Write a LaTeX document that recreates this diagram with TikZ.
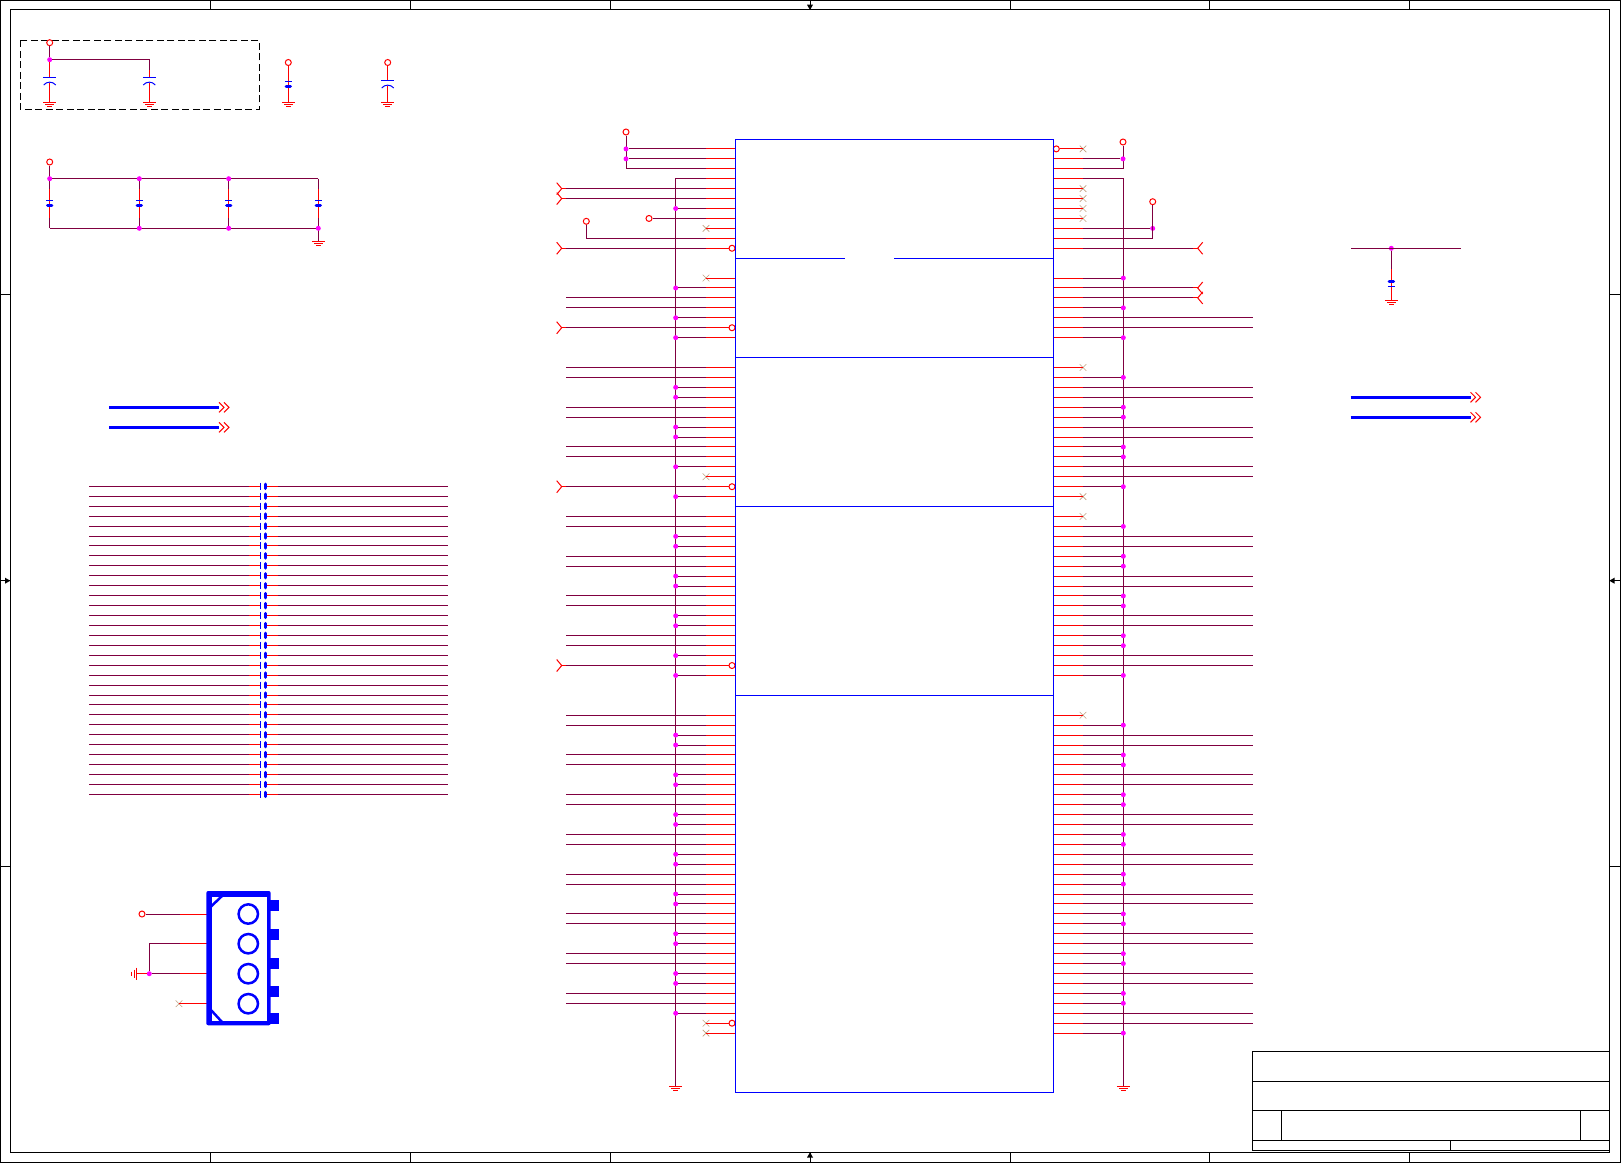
\documentclass[tikz,border=0pt]{standalone}
\usetikzlibrary{calc, positioning, shapes.misc}
\definecolor{netpurple}{HTML}{800040}
\definecolor{ncbrown}{HTML}{C0A080}
\definecolor{jmagenta}{HTML}{FF00FF}
\tikzset{
  netwire/.style={draw=netpurple, line width=1pt},
  pinwire/.style={draw=red, line width=1pt},
  partline/.style={draw=blue, line width=1pt},
  frameline/.style={draw=black, line width=1pt},
  junction/.style={circle, fill=jmagenta, inner sep=0pt, minimum size=5pt},
  term/.style={circle, draw=red, fill=white, line width=1pt, inner sep=0pt, minimum size=6pt},
  ncmark/.style={cross out, draw=ncbrown, line width=0.6pt, inner sep=0pt, minimum size=6pt},
}
% ground symbol, pointing down
\newcommand{\gndmark}[1]{
  \draw[pinwire] ($(#1)+(-6.5,0)$) -- ($(#1)+(6.5,0)$);
  \draw[pinwire] ($(#1)+(-4.3,2)$) -- ($(#1)+(4.3,2)$);
  \draw[pinwire] ($(#1)+(-2.3,4)$) -- ($(#1)+(2.3,4)$);
}
% plain plate and bold plate, #2 is 1 or -1 for which one is on top
\newcommand{\capflat}[2]{
  \draw[partline] ($(#1)+(-3.5,-2.5*#2)$) -- ($(#1)+(3.5,-2.5*#2)$);
  \draw[blue, line width=3pt, line cap=round] ($(#1)+(-2.2,2.5*#2)$) -- ($(#1)+(2.2,2.5*#2)$);
}
% plain plate and curved plate
\newcommand{\capcurved}[1]{
  \draw[partline] ($(#1)+(-6.3,-2.7)$) -- ($(#1)+(6.3,-2.7)$);
  \draw[partline] ($(#1)+(-6,5)$) .. controls ($(#1)+(-3,1.2)$) and ($(#1)+(3,1.2)$) .. ($(#1)+(6,5)$);
}
\newcommand{\busmark}[1]{
  \draw[pinwire] ($(#1)+(0,-5)$) -- ($(#1)+(5,0)$) -- ($(#1)+(0,5)$);
  \draw[pinwire] ($(#1)+(5,-5)$) -- ($(#1)+(10,0)$) -- ($(#1)+(5,5)$);
}

\begin{document}
\begin{tikzpicture}[x=1pt, y=-1pt]
  \useasboundingbox (0,0) rectangle (1621,1164);

  % Sheet frame
  \draw[frameline] (0.5,0.5) rectangle (1620.4,1162.5);
  \draw[frameline] (10.3,9.5) rectangle (1609.3,1152.3);
  \foreach \tx in {210.3,410.2,610.1,1010,1209.7,1409.5} {
    \draw[frameline] (\tx,0.5) -- (\tx,9.5);
    \draw[frameline] (\tx,1152.3) -- (\tx,1162.5);
  }
  \foreach \ty in {294.8,866.5} {
    \draw[frameline] (0.5,\ty) -- (10.3,\ty);
    \draw[frameline] (1609.3,\ty) -- (1620.4,\ty);
  }
  % Centre marks
  \draw[frameline] (810,0.5) -- (810,9.5);
  \draw[frameline] (810,1152.3) -- (810,1162.5);
  \draw[frameline] (0.5,580.7) -- (10.3,580.7);
  \draw[frameline] (1609.3,580.7) -- (1620.4,580.7);
  \fill[black] (807,4.7) -- (813,4.7) -- (810,10) -- cycle;
  \fill[black] (807,1157.5) -- (813,1157.5) -- (810,1152.3) -- cycle;
  \fill[black] (5,577.7) -- (5,583.7) -- (10.3,580.7) -- cycle;
  \fill[black] (1614.5,577.7) -- (1614.5,583.7) -- (1609.3,580.7) -- cycle;

  % Title block
  \draw[frameline] (1252.3,1051.3) rectangle (1609.3,1150.3);
  \draw[frameline] (1252.3,1081.3) -- (1609.3,1081.3);
  \draw[frameline] (1252.3,1110.3) -- (1609.3,1110.3);
  \draw[frameline] (1252.3,1140) -- (1609.3,1140);
  \draw[frameline] (1281.3,1110.3) -- (1281.3,1140);
  \draw[frameline] (1580.3,1110.3) -- (1580.3,1140);
  \draw[frameline] (1450.3,1140) -- (1450.3,1150.3);

  % Decoupling caps, top left
  \draw[black, line width=1pt, dash pattern=on 7pt off 3.5pt] (20.3,40.3) rectangle (259.3,109.3);
  \node[junction] (ja) at (49.7,59.7) {};
  \node[term] (vcca) at (49.7,42.7) {};
  \coordinate (ca) at (49.7,80);
  \coordinate (cb) at (149.3,80);
  \coordinate (ga) at (49.7,102.3);
  \coordinate (gb) at (149.3,102.3);
  \draw[netwire] (vcca) -- (ja);
  \draw[netwire] (ja) -| ($(cb)+(0,-10)$);
  \draw[pinwire] (ja) -- ($(ca)+(0,-2.7)$);
  \draw[pinwire] ($(cb)+(0,-10)$) -- ($(cb)+(0,-2.7)$);
  \foreach \cn/\gn in {ca/ga,cb/gb} {
    \draw[pinwire] ($(\cn)+(0,3)$) -- (\gn);
    \capcurved{\cn}
    \gndmark{\gn}
  }
  \node[term] (vccb) at (288.3,62.5) {};
  \coordinate (cc) at (288.3,83.7);
  \coordinate (gc) at (288.3,102.3);
  \draw[pinwire] (vccb) -- (gc);
  \capflat{cc}{1}
  \gndmark{gc}
  \node[term] (vccc) at (387.7,62.5) {};
  \coordinate (cd) at (387.7,83);
  \coordinate (gd) at (387.7,102.3);
  \draw[pinwire] (vccc) -- ($(cd)+(0,-2.7)$);
  \draw[pinwire] ($(cd)+(0,3)$) -- (gd);
  \capcurved{cd}
  \gndmark{gd}

  % Four caps in parallel
  \node[term] (vccd) at (49.7,162) {};
  \foreach \cx/\cn in {49.7/a,139.3/b,228.7/c,318.3/d} {
    \coordinate (pt\cn) at (\cx,178.7);
    \coordinate (pc\cn) at (\cx,203.2);
    \coordinate (pb\cn) at (\cx,228.3);
    \draw[netwire] (pt\cn) -- ($(pt\cn)+(0,10.5)$);
    \draw[pinwire] ($(pt\cn)+(0,10.5)$) -- (pc\cn);
    \draw[pinwire] (pc\cn) -- ($(pb\cn)+(0,-10)$);
    \draw[netwire] ($(pb\cn)+(0,-10)$) -- (pb\cn);
    \capflat{pc\cn}{1}
  }
  \coordinate (ge) at (318.3,241);
  \draw[netwire] (vccd) -- (pta);
  \draw[netwire] (pta) -- (ptd);
  \draw[netwire] (pba) -- (pbd);
  \draw[netwire] (pbd) -- (ge);
  \gndmark{ge}
  \foreach \cn in {pta,ptb,ptc,pbb,pbc,pbd} {
    \node[junction] at (\cn) {};
  }

  % Buses, left
  \foreach \by/\bn in {407.3/ba,427.3/bb} {
    \coordinate (\bn s) at (109,\by);
    \coordinate (\bn e) at (219,\by);
    \draw[blue, line width=3pt] (\bn s) -- (\bn e);
    \busmark{\bn e}
  }

  % Coupling caps, 32 rows
  \foreach \i in {0,...,31} {
    \coordinate (ka\i) at (89,{486.3+9.94*\i});
    \coordinate (kb\i) at (249,{486.3+9.94*\i});
    \coordinate (kc\i) at (260.3,{486.3+9.94*\i});
    \coordinate (kd\i) at (265.3,{486.3+9.94*\i});
    \coordinate (ke\i) at (278,{486.3+9.94*\i});
    \coordinate (kf\i) at (447.7,{486.3+9.94*\i});
    \draw[netwire] (ka\i) -- (kb\i);
    \draw[pinwire] (kb\i) -- (kc\i);
    \draw[pinwire] (kd\i) -- (ke\i);
    \draw[netwire] (ke\i) -- (kf\i);
    \draw[partline] ($(kc\i)+(0,-3.5)$) -- ($(kc\i)+(0,3.5)$);
    \draw[blue, line width=3pt, line cap=round] ($(kd\i)+(0,-2.2)$) -- ($(kd\i)+(0,2.2)$);
  }

  % Connector
  \foreach \py/\pn in {914/a,943.7/b,973.7/c,1003.7/d} {
    \coordinate (hp\pn) at (209,\py);
    \coordinate (hs\pn) at (180,\py);
    \draw[pinwire] (hs\pn) -- (hp\pn);
  }
  \node[term] (vcch) at (142,914) {};
  \node[junction] (jh) at (149.3,973.7) {};
  \coordinate (gh) at (136.7,973.7);
  \node[ncmark] (nch) at (179,1003.7) {};
  \draw[netwire] (vcch) -- (hsa);
  \draw[netwire] (hsb) -| (jh);
  \draw[netwire] (jh) -- (hsc);
  \draw[pinwire] (jh) -- (gh);
  \draw[pinwire] (nch.center) -- (hsd);
  \draw[pinwire] (136.7,967.5) -- (136.7,980);
  \draw[pinwire] (134.2,969.5) -- (134.2,978);
  \draw[pinwire] (131.8,971.5) -- (131.8,976);
  \fill[blue, rounded corners=2pt] (206.3,891) rectangle (270.7,1025.3);
  \fill[white] (211.7,897.3) rectangle (266.7,1021);
  \draw[blue, line width=2.5pt] (211,906.5) -- (222,896);
  \draw[blue, line width=2.5pt] (211,1010) -- (222,1022);
  \foreach \py in {914,943.7,973.7,1003.7} {
    \draw[blue, line width=2.5pt] (248.3,\py) circle (9.7);
  }
  \foreach \ty in {900,929,958,986,1013} {
    \fill[blue] (270,\ty) rectangle (279,\ty+11);
  }

  % Right hand cap and buses
  \coordinate (wa) at (1351,248.3);
  \coordinate (wb) at (1461,248.3);
  \node[junction] (jw) at (1391.3,248.3) {};
  \coordinate (cw) at (1391.3,283.8);
  \coordinate (gw) at (1391.3,300.7);
  \draw[netwire] (wa) -- (wb);
  \draw[netwire] (jw) -- (1391.3,269.3);
  \draw[pinwire] (1391.3,269.3) -- (gw);
  \capflat{cw}{-1}
  \gndmark{gw}
  \foreach \by/\bn in {397.3/bc,417.3/bd} {
    \coordinate (\bn s) at (1350.7,\by);
    \coordinate (\bn e) at (1470.5,\by);
    \draw[blue, line width=3pt] (\bn s) -- (\bn e);
    \busmark{\bn e}
  }

  % Pin rows of the big part
  \foreach \i in {0,...,89} {
    \coordinate (L\i) at (735.3,{148.9+9.935*\i});
    \coordinate (Ls\i) at (706,{148.9+9.935*\i});
    \coordinate (Lb\i) at (675.7,{148.9+9.935*\i});
    \coordinate (Le\i) at (566,{148.9+9.935*\i});
    \coordinate (R\i) at (1053.3,{148.9+9.935*\i});
    \coordinate (Rs\i) at (1083,{148.9+9.935*\i});
    \coordinate (Rb\i) at (1123.3,{148.9+9.935*\i});
    \coordinate (Re\i) at (1252.8,{148.9+9.935*\i});
  }

  % Left side
  \node[term] (vccl) at (626,132) {};
  \coordinate (gndl) at (675.7,1086);
  \draw[netwire] (vccl) |- (Ls2);
  \draw[netwire] (Ls3) -| (gndl);
  \gndmark{gndl}
  \node[term] (tl7) at (649,{148.9+9.935*7}) {};
  \draw[netwire] (tl7) -- (Ls7);
  \node[term] (tl9) at (586.3,221.3) {};
  \draw[netwire] (tl9) |- (Ls9);
  \foreach \i in {0,1} {
    \node[junction] (jv\i) at (vccl |- L\i) {};
    \draw[netwire] (jv\i) -- (Ls\i);
  }
  \foreach \i in {6,14,17,19,24,25,28,29,32,35,39,40,43,44,47,48,51,53,59,60,63,64,67,68,71,72,75,76,79,80,83,84,87} {
    \node[junction] (jl\i) at (Lb\i) {};
    \draw[netwire] (jl\i) -- (Ls\i);
  }
  \foreach \i in {15,16,22,23,26,27,30,31,37,38,41,42,45,46,49,50,57,58,61,62,65,66,69,70,73,74,77,78,81,82,85,86} {
    \draw[netwire] (Le\i) -- (Ls\i);
  }
  \foreach \i in {0,1,2,3,4,5,6,7,9,14,15,16,17,19,22,23,24,25,26,27,28,29,30,31,32,35,37,38,39,40,41,42,43,44,45,46,47,48,49,50,51,53,57,58,59,60,61,62,63,64,65,66,67,68,69,70,71,72,73,74,75,76,77,78,79,80,81,82,83,84,85,86,87} {
    \draw[pinwire] (Ls\i) -- (L\i);
  }
  \foreach \i in {4,5,10,18,34,52} {
    \coordinate (pl\i) at ($(Le\i)+(-4.3,0)$);
    \draw[netwire] (Le\i) -- (Ls\i);
    \draw[pinwire] (pl\i) -- (Le\i);
    \draw[pinwire] ($(pl\i)+(-5,-6)$) -- (pl\i) -- ($(pl\i)+(-5,6)$);
  }
  \foreach \i in {10,18,34,52} {
    \node[term] (il\i) at ($(L\i)+(-3.3,0)$) {};
    \draw[pinwire] (Ls\i) -- (il\i);
  }
  \foreach \i in {8,13,33,89} {
    \node[ncmark] (nl\i) at (Ls\i) {};
    \draw[pinwire] (nl\i.center) -- (L\i);
  }
  \node[ncmark] (nl88) at (Ls88) {};
  \node[term] (il88) at ($(L88)+(-3.3,0)$) {};
  \draw[pinwire] (nl88.center) -- (il88);

  % Right side
  \node[term] (vccr) at (1123,142) {};
  \coordinate (gndr) at (1123.3,1086);
  \node[term] (ir0) at ($(R0)+(3,0)$) {};
  \node[ncmark] (nr0) at (Rs0) {};
  \draw[pinwire] (ir0) -- (nr0.center);
  \draw[netwire] (vccr) |- (Rs2);
  \node[junction] (jr1) at (vccr |- R1) {};
  \draw[netwire] (jr1) -- (Rs1);
  \draw[netwire] (Rs3) -| (gndr);
  \gndmark{gndr}
  \node[term] (tr8) at (1152.7,201.7) {};
  \node[junction] (jr8) at (tr8 |- R8) {};
  \draw[netwire] (tr8) |- (Rs9);
  \draw[netwire] (jr8) -- (Rs8);
  \foreach \i in {13,16,19,23,26,27,30,31,34,38,41,42,45,46,49,50,53,58,61,62,65,66,69,70,73,74,77,78,81,82,85,86,89} {
    \node[junction] (jr\i) at (Rb\i) {};
    \draw[netwire] (jr\i) -- (Rs\i);
    \draw[pinwire] (Rs\i) -- (R\i);
  }
  \foreach \i in {17,18,24,25,28,29,32,33,39,40,43,44,47,48,51,52,59,60,63,64,67,68,71,72,75,76,79,80,83,84,87,88} {
    \draw[netwire] (Re\i) -- (Rs\i);
    \draw[pinwire] (Rs\i) -- (R\i);
  }
  \foreach \i in {1,2,3,8,9} {
    \draw[pinwire] (Rs\i) -- (R\i);
  }
  \foreach \i in {4,5,6,7,22,35,37,57} {
    \node[ncmark] (nr\i) at (Rs\i) {};
    \draw[pinwire] (nr\i.center) -- (R\i);
  }
  \foreach \i in {10,14,15} {
    \coordinate (pr\i) at (1197.7,{148.9+9.935*\i});
    \draw[pinwire] (Rs\i) -- (R\i);
    \draw[netwire] (Rs\i) -- ($(pr\i)+(-5,0)$);
    \draw[pinwire] ($(pr\i)+(-5,0)$) -- (pr\i);
    \draw[pinwire] ($(pr\i)+(5,-6)$) -- (pr\i) -- ($(pr\i)+(5,6)$);
  }

  % Big part outline
  \draw[partline] (735.3,139.3) rectangle (1053.3,1092.3);
  \draw[partline] (735.3,258.3) -- (845,258.3);
  \draw[partline] (894,258.3) -- (1053.3,258.3);
  \draw[partline] (735.3,357.3) -- (1053.3,357.3);
  \draw[partline] (735.3,506.3) -- (1053.3,506.3);
  \draw[partline] (735.3,695.3) -- (1053.3,695.3);
\end{tikzpicture}
\end{document}
